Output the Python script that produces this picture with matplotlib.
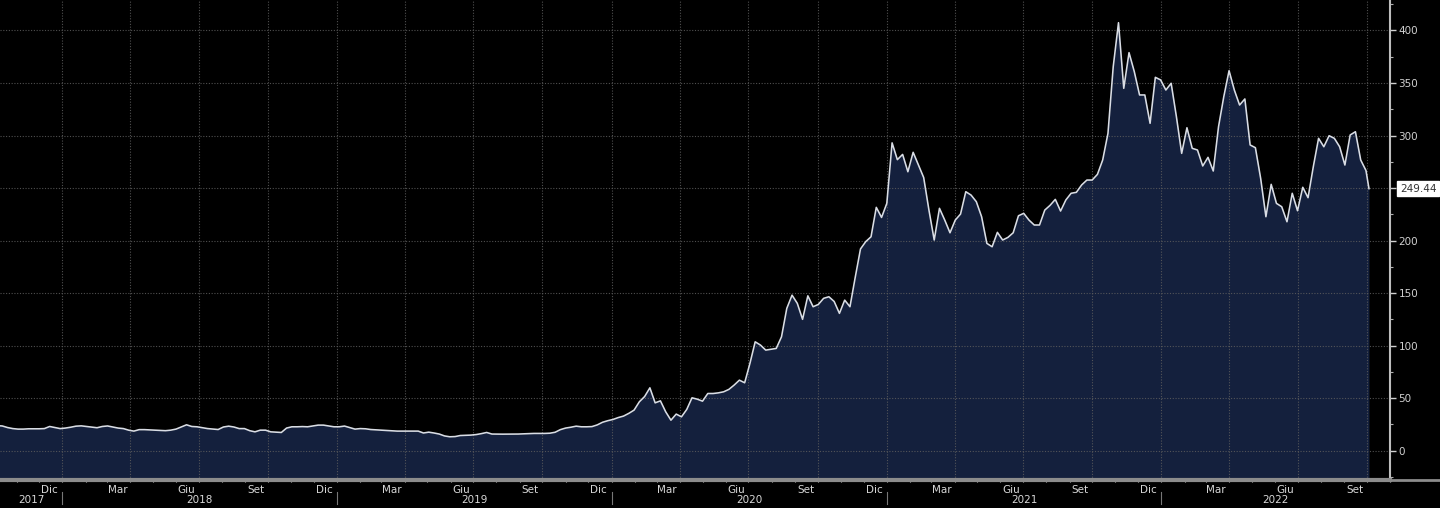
import matplotlib
matplotlib.use("Agg")
import matplotlib.pyplot as plt
import matplotlib.dates as mdates
import matplotlib.transforms as mtransforms
import pandas as pd

# date settimanali (venerdi) + ultimo giorno disponibile
settimane = pd.date_range("2017-10-06", "2022-09-30", freq="W-FRI")
date = list(settimane) + [pd.Timestamp("2022-10-04")]

prezzi = [
    23.8, 23.5, 22.0, 21.0, 20.5, 20.5, 20.8, 20.8, 20.8, 21.0, 23.0, 22.0, 21.0,
    21.5, 22.3, 23.3, 23.6, 23.0, 22.5, 21.8, 23.0, 23.5, 22.5, 21.5, 21.0, 19.5,
    18.6, 20.0, 20.0, 19.8, 19.5, 19.2, 19.0, 19.5, 20.5, 22.5, 24.6, 23.0, 22.7,
    21.8, 21.0, 20.5, 20.1, 22.5, 23.3, 22.5, 21.0, 21.0, 19.0, 17.9, 19.5, 19.5,
    17.9, 17.6, 17.3, 21.5, 22.7, 22.7, 22.9, 22.7, 23.5, 24.3, 24.3, 23.5, 22.7,
    22.7, 23.4, 22.0, 20.5, 21.0, 20.8, 20.1, 19.8, 19.5, 19.2, 18.9, 18.6, 18.6,
    18.6, 18.6, 18.6, 16.8, 17.6, 16.8, 15.8, 14.0, 13.2, 13.4, 14.4, 14.6, 14.8,
    15.3, 16.2, 17.3, 15.8, 15.7, 15.7, 15.7, 15.7, 15.8, 16.0, 16.3, 16.4, 16.4,
    16.4, 16.6, 17.5, 20.0, 21.5, 22.3, 23.3, 22.7, 22.7, 22.9, 24.5, 27.0, 28.5,
    29.7, 31.5, 32.9, 35.5, 38.6, 46.5, 51.5, 59.8, 45.5, 47.4, 37.0, 29.0, 34.8,
    32.2, 39.2, 50.3, 49.0, 47.1, 54.4, 54.4, 55.0, 56.0, 58.3, 62.4, 67.1, 64.6,
    83.0, 103.6, 100.5, 95.7, 96.5, 97.3, 108.4, 135.4, 148.0, 140.2, 125.0, 147.4, 137.0,
    139.2, 145.0, 146.5, 142.0, 130.7, 143.3, 137.0, 165.0, 192.0, 199.0, 203.6, 231.6, 222.0,
    235.4, 293.0, 277.0, 282.0, 265.5, 284.0, 272.0, 260.0, 229.0, 200.5, 230.7, 219.5, 207.4,
    219.5, 225.2, 246.5, 243.3, 237.0, 222.7, 197.3, 194.1, 207.8, 200.5, 203.0, 207.4, 223.6,
    225.9, 219.5, 214.8, 214.8, 229.0, 233.5, 239.2, 228.1, 238.6, 245.0, 245.9, 252.9, 257.6,
    257.6, 263.0, 276.7, 302.0, 365.5, 407.4, 344.9, 378.9, 360.8, 338.6, 338.6, 311.6, 355.4,
    352.9, 343.3, 349.7, 317.9, 283.0, 307.4, 287.8, 286.2, 271.0, 279.2, 266.2, 308.4, 337.0,
    361.7, 343.3, 329.0, 334.8, 291.0, 288.4, 259.2, 222.7, 253.5, 235.4, 232.2, 217.9, 245.0,
    228.4, 250.7, 240.8, 270.3, 297.3, 289.3, 299.8, 297.3, 289.3, 271.9, 300.5, 303.6, 276.7,
    266.7, 249.44,
]

mesi_etichette = {12: "Dic", 3: "Mar", 6: "Giu", 9: "Set"}
anni = [2017, 2018, 2019, 2020, 2021, 2022]
y_ticks = [0, 50, 100, 150, 200, 250, 300, 350, 400]
# il 250 e' coperto dall'etichetta dell'ultimo valore
y_etichette = ["0", "50", "100", "150", "200", "", "300", "350", "400"]

x_min = pd.Timestamp("2017-10-10")
x_max = pd.Timestamp("2022-11-01")
y_min, y_max = -28, 429

fig = plt.figure(figsize=(14.4, 5.08), dpi=100, facecolor="black")
ax = fig.add_axes([0.0, 0.055, 0.9653, 0.945])
ax.set_facecolor("black")

ax.fill_between(date, prezzi, y_min, color="#14203d", zorder=1, linewidth=0)
ax.plot(date, prezzi, color="#d9dde5", linewidth=1.15, zorder=3)

# griglia punteggiata
stile_griglia = dict(color="#5e5e5e", linestyle=(0, (1, 1.5)), linewidth=0.8, alpha=0.85, zorder=2)
for v in y_ticks:
    ax.axhline(v, **stile_griglia)
for anno in range(2017, 2023):
    for mese in (1, 4, 7, 10):
        d = pd.Timestamp(anno, mese, 1)
        if x_min < d < x_max:
            ax.axvline(d, **stile_griglia)

ax.set_xlim(x_min, x_max)
ax.set_ylim(y_min, y_max)

# asse destro
ax.yaxis.tick_right()
ax.set_yticks(y_ticks)
ax.set_yticklabels(y_etichette)
ax.set_yticks(range(-25, 426, 25), minor=True)
ax.tick_params(axis="y", which="major", colors="#d0d0d0", labelsize=7.5, length=4, width=1, pad=2)
ax.tick_params(axis="y", which="minor", colors="#b0b0b0", length=2, width=0.8)
for s in ("top", "left"):
    ax.spines[s].set_visible(False)
ax.spines["right"].set_color("#bdbdbd")
ax.spines["right"].set_linewidth(1.5)
ax.spines["bottom"].set_color("#8c8c8c")
ax.spines["bottom"].set_linewidth(3)

# asse x: tacche mensili, etichette a mano
ax.xaxis.set_major_locator(mdates.MonthLocator())
ax.tick_params(axis="x", which="major", colors="#d0d0d0", length=3, width=0.8,
               direction="inout", labelbottom=False)

trans = mtransforms.blended_transform_factory(ax.transData, ax.transAxes)
for anno in range(2017, 2023):
    for mese, nome in mesi_etichette.items():
        d = pd.Timestamp(anno, mese, 15)
        if x_min < d < x_max:
            ax.text(d, -0.020, nome, transform=trans, ha="center", va="center",
                    color="#d8d8d8", fontsize=7.5, clip_on=False)

for anno in anni:
    inizio = max(pd.Timestamp(anno, 1, 1), x_min)
    fine = min(pd.Timestamp(anno + 1, 1, 1), x_max)
    centro = inizio + (fine - inizio) / 2
    ax.text(centro, -0.041, str(anno), transform=trans, ha="center", va="center",
            color="#d8d8d8", fontsize=7.5, clip_on=False)
    sep = pd.Timestamp(anno + 1, 1, 1)
    if sep < x_max:
        ax.plot([sep, sep], [-0.025, -0.050], transform=trans, color="#777777",
                linewidth=0.8, clip_on=False)

# linea grigia che prosegue a destra dell'asse
fig.add_artist(plt.Line2D([0.9653, 1.0], [0.055, 0.055], color="#8c8c8c", linewidth=2))

# etichetta ultimo valore
ax.annotate(f"{prezzi[-1]:.2f}", xy=(1.0, prezzi[-1]), xycoords=("axes fraction", "data"),
            xytext=(7, 0), textcoords="offset points", ha="left", va="center",
            fontsize=7.5, color="#333333", annotation_clip=False,
            bbox=dict(boxstyle="square,pad=0.25", fc="white", ec="white"))

fig.savefig("out.png", dpi=100, facecolor="black")
